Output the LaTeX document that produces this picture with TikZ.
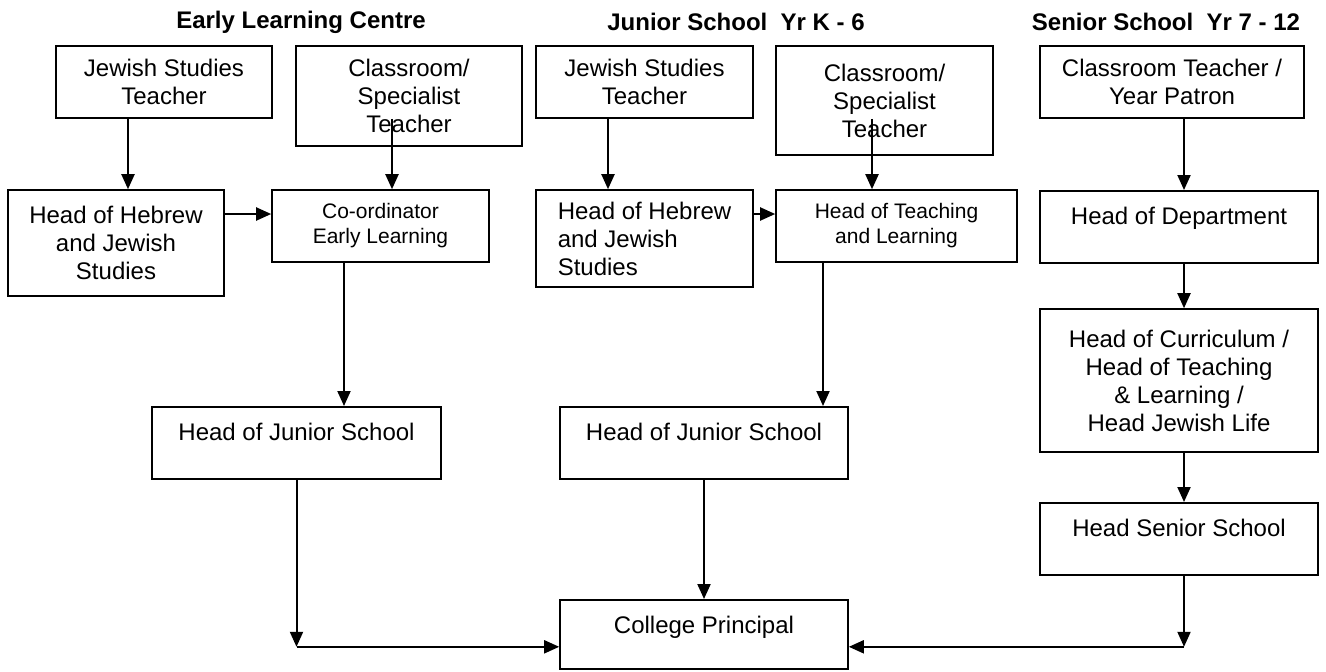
\documentclass[tikz,border=0pt]{standalone}
\usepackage{fontspec}
\setmainfont{Liberation Sans}
\usepackage{tikz}
\usetikzlibrary{arrows.meta}
\usetikzlibrary{calc}

\begin{document}
\begin{tikzpicture}[x=0.5pt, y=-0.5pt, font=\fontsize{12}{14}\selectfont]
\tikzstyle{block} = [ rectangle, draw, line width=0.8pt, align=center, inner sep=0pt ]
\tikzstyle{topblock} = [ block, anchor=north, text height=17pt, text depth=19pt ]
\tikzstyle{small} = [ font=\fontsize{10.5}{12.5}\selectfont ]
\tikzstyle{title} = [ font=\fontsize{12}{14}\selectfont\bfseries ]
\tikzstyle{line} = [ draw, line width=1pt, -{Triangle[length=7.5pt,width=6.5pt]} ]
\useasboundingbox (0,0) rectangle (1326,671);
% place nodes
\node [title] (elc) at (301,22) {Early Learning Centre} ;
\node [title] (jun) at (736,22) {Junior School\ \ Yr K - 6} ;
\node [title] (sen) at (1166,22) {Senior School\ \ Yr 7 - 12} ;

\node [block, minimum width=108pt, minimum height=36pt] (elc-jewish) at (164,82) {Jewish Studies\\Teacher} ;
\node [block, minimum width=113pt, minimum height=50pt] (elc-class) at (409,96) {Classroom/\\Specialist\\Teacher} ;
\node [block, minimum width=108pt, minimum height=53pt] (elc-hebrew) at (116,243) {Head of Hebrew\\and Jewish\\Studies} ;
\node [block, small, minimum width=108.5pt, minimum height=36pt] (elc-coord) at (380.5,226) {Co-ordinator\\Early Learning} ;
\node [topblock, minimum width=144.5pt] (elc-head) at (296.5,406) {Head of Junior School} ;

\node [block, minimum width=108.5pt, minimum height=36pt] (jun-jewish) at (644.5,82) {Jewish Studies\\Teacher} ;
\node [block, minimum width=108.5pt, minimum height=54.5pt] (jun-class) at (884.5,100.5) {Classroom/\\Specialist\\Teacher} ;
\node [block, align=left, minimum width=108.5pt, minimum height=48.5pt] (jun-hebrew) at (644.5,238.5) {Head of Hebrew\\and Jewish\\Studies} ;
\node [block, small, minimum width=120.5pt, minimum height=36pt] (jun-teach) at (896.5,226) {Head of Teaching\\and Learning} ;
\node [topblock, minimum width=144pt] (jun-head) at (704,406) {Head of Junior School} ;

\node [block, minimum width=132pt, minimum height=36pt] (sen-teacher) at (1172,82) {Classroom Teacher /\\Year Patron} ;
\node [topblock, minimum width=139pt] (sen-dept) at (1179,190) {Head of Department} ;
\node [block, minimum width=139pt, minimum height=71.5pt] (sen-curr) at (1179,380.5) {Head of Curriculum /\\Head of Teaching\\\& Learning /\\Head Jewish Life} ;
\node [topblock, minimum width=139pt] (sen-head) at (1179,502) {Head Senior School} ;

\node [topblock, minimum width=144pt, text depth=17.5pt] (principal) at (704,599) {College Principal} ;

\coordinate (principal-in-left) at ([yshift=-6.25pt]principal.west) ;
\coordinate (principal-in-right) at ([yshift=-6.25pt]principal.east) ;
\coordinate (junior-turn) at (principal-in-left -| elc-head.south) ;
\coordinate (senior-drop) at ([xshift=2.5pt]sen-head.south) ;
\coordinate (senior-turn) at (principal-in-right -| senior-drop) ;

% draw edges
\path [line] ([xshift=-18pt]elc-jewish.south) -- ([xshift=-18pt]elc-jewish.south |- elc-hebrew.north) ;
\path [line] ($(elc-class.south)+(-8.5pt,14pt)$) -- ([xshift=-8.5pt]elc-class.south |- elc-coord.north) ;
\path [line] ([yshift=14.5pt]elc-hebrew.east) -- ([yshift=14.5pt]elc-hebrew.east -| elc-coord.west) ;
\path [line] ([xshift=-18.25pt]elc-coord.south) -- ([xshift=-18.25pt]elc-coord.south |- elc-head.north) ;

\path [line] ([xshift=-18.25pt]jun-jewish.south) -- ([xshift=-18.25pt]jun-jewish.south |- jun-hebrew.north) ;
\path [line] ($(jun-class.south)+(-6.25pt,18.5pt)$) -- ([xshift=-6.25pt]jun-class.south |- jun-teach.north) ;
\path [line] ([yshift=12.25pt]jun-hebrew.east) -- ([yshift=12.25pt]jun-hebrew.east -| jun-teach.west) ;
\path [line] ([xshift=-36.75pt]jun-teach.south) -- ([xshift=-36.75pt]jun-teach.south |- jun-head.north) ;
\path [line] (jun-head) -- (principal) ;

\path [line] ([xshift=6pt]sen-teacher.south) -- ([xshift=6pt]sen-teacher.south |- sen-dept.north) ;
\path [line] ([xshift=2.5pt]sen-dept.south) -- ([xshift=2.5pt]sen-dept.south |- sen-curr.north) ;
\path [line] ([xshift=2.5pt]sen-curr.south) -- ([xshift=2.5pt]sen-curr.south |- sen-head.north) ;

\path [line] (elc-head.south) -- (junior-turn) ;
\path [line] (junior-turn) -- (principal-in-left) ;
\path [line] (senior-drop) -- (senior-turn) ;
\path [line] (senior-turn) -- (principal-in-right) ;

\end{tikzpicture}
\end{document}
